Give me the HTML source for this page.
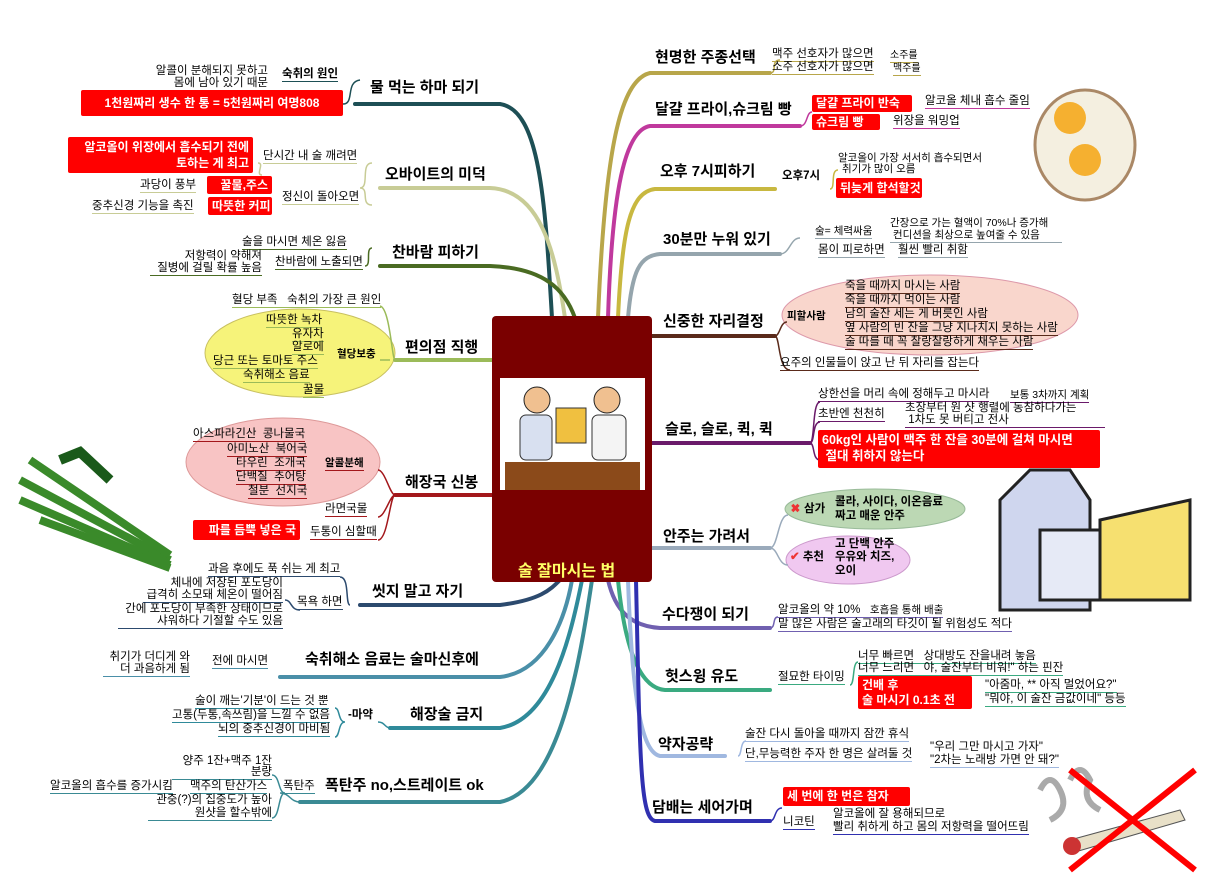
<!DOCTYPE html>
<html><head><meta charset="utf-8">
<style>
body{margin:0;width:1211px;height:881px;background:#fff;position:relative;overflow:hidden;font-family:"Liberation Sans","Noto Sans CJK KR","NanumGothic",sans-serif;}
.t{position:absolute;font-size:11.5px;line-height:13px;white-space:nowrap;color:#000;border-bottom:1.5px solid #888;}
.h{position:absolute;font-size:15px;font-weight:bold;white-space:nowrap;line-height:18px;color:#000;}
.r{position:absolute;background:#f00;color:#fff;font-weight:bold;font-size:12px;line-height:14px;padding:2px 4px;white-space:nowrap;border-radius:2px;}
.n{border:none}
</style></head><body>
<svg width="1211" height="881" style="position:absolute;left:0;top:0">
<!-- clouds -->
<ellipse cx="300" cy="353" rx="95" ry="44" fill="#f6f37a" stroke="#c8c060"/>
<ellipse cx="283" cy="462" rx="97" ry="44" fill="#f8c4c4" stroke="#d99"/>
<ellipse cx="930" cy="315" rx="148" ry="40" fill="#f9d6cc" stroke="#d9a"/>
<ellipse cx="875" cy="509" rx="90" ry="20" fill="#bcd8b4" stroke="#9b9"/>
<ellipse cx="848" cy="560" rx="62" ry="24" fill="#f0c8f0" stroke="#c9c"/>
<!-- main branches left -->
<g fill="none" stroke-width="4" stroke-linecap="round">
<path d="M355 104 H500 C540 110 545 200 552 318" stroke="#1d4f55"/>
<path d="M380 188 H490 C540 190 555 250 565 318" stroke="#c8cc96"/>
<path d="M380 266 H490 C545 268 565 290 575 318" stroke="#4a6b22"/>
<path d="M395 360 H494" stroke="#9bbb59"/>
<path d="M395 495 H494" stroke="#a3171b"/>
<path d="M360 605 H500 C540 600 550 590 560 580" stroke="#2c4a6e"/>
<path d="M280 677 H500 C545 672 565 620 572 580" stroke="#4a8fa8"/>
<path d="M390 728 H500 C550 720 570 640 582 580" stroke="#2f8a9a"/>
<path d="M300 802 H500 C560 790 580 660 592 580" stroke="#3a8a94"/>
<!-- right -->
<path d="M598 318 C605 150 620 80 650 73 H770" stroke="#b8a64a"/>
<path d="M608 318 C612 190 625 130 650 126 H800" stroke="#c0399d"/>
<path d="M618 318 C622 230 630 192 655 189 H775" stroke="#c8b840"/>
<path d="M628 318 C632 270 640 256 660 254 H780" stroke="#95a5ad"/>
<path d="M650 336 H775" stroke="#5a2a1a"/>
<path d="M650 443 H810" stroke="#6a1a6a"/>
<path d="M650 548 H770" stroke="#9aaabb"/>
<path d="M608 580 C615 610 630 626 660 628 H770" stroke="#7060b0"/>
<path d="M618 580 C625 650 640 688 665 690 H770" stroke="#3aaa80"/>
<path d="M628 580 C632 690 640 752 660 756 H725" stroke="#a0b8e0"/>
<path d="M636 580 C640 760 640 818 655 821 H770" stroke="#3030b0"/>
</g>
<!-- sub connectors -->
<g fill="none" stroke-width="1.5">
<path d="M343 104 C355 104 345 82 360 80" stroke="#1d4f55"/>
<path d="M360 188 C370 188 360 163 372 163 M360 188 C370 188 360 205 372 205 M258 163 C265 163 255 175 262 175" stroke="#c8cc96"/>
<path d="M365 266 C372 266 365 248 372 248" stroke="#4a6b22"/>
<path d="M395 360 C392 360 390 308 380 306 M390 360 H380" stroke="#9bbb59"/>
<path d="M395 495 C390 495 385 470 378 470 M395 495 C390 495 385 517 378 517 M395 495 C390 495 388 540 378 540" stroke="#a3171b"/>
<path d="M350 605 C345 605 350 577 340 577 M300 610 C290 610 292 600 285 600" stroke="#2c4a6e"/>
<path d="M390 728 C385 728 385 722 378 722 M345 722 C338 722 340 708 335 708 M345 722 C338 722 340 737 335 737" stroke="#2f8a9a"/>
<path d="M300 802 C290 802 290 793 280 793 M285 793 C278 793 280 775 272 775 M285 793 C278 793 280 818 272 818" stroke="#3a8a94"/>
<path d="M770 73 C778 73 770 60 780 60" stroke="#b8a64a"/>
<path d="M800 126 C808 126 806 112 812 112" stroke="#c0399d"/>
<path d="M830 189 C836 189 830 170 838 170" stroke="#c8b840"/>
<path d="M780 254 C790 254 790 238 800 238" stroke="#95a5ad"/>
<path d="M775 336 C780 336 778 370 790 370 M775 336 C780 336 780 322 787 322" stroke="#5a2a1a"/>
<path d="M810 443 C815 443 812 402 820 402 M810 443 C815 443 812 422 820 422 M810 443 C815 443 812 460 820 460" stroke="#6a1a6a"/>
<path d="M770 548 C778 548 778 515 788 515 M770 548 C778 548 778 565 788 565" stroke="#9aaabb"/>
<path d="M770 628 C776 628 772 617 778 617" stroke="#7060b0"/>
<path d="M850 685 C855 685 852 662 858 662" stroke="#3aaa80"/>
<path d="M738 756 C742 756 740 741 746 741" stroke="#a0b8e0"/>
<path d="M770 821 C776 821 774 808 782 808" stroke="#3030b0"/>
</g>
<!-- central -->
<rect x="492" y="316" width="160" height="266" rx="4" fill="#7a0000"/>
<rect x="500" y="378" width="145" height="112" fill="#fff"/>
<rect x="505" y="462" width="135" height="28" fill="#8b4a1a"/>
<circle cx="537" cy="400" r="13" fill="#f0c090" stroke="#222"/>
<rect x="520" y="415" width="32" height="45" rx="6" fill="#d8e0f0" stroke="#333"/>
<circle cx="607" cy="400" r="13" fill="#f0c090" stroke="#222"/>
<rect x="592" y="415" width="34" height="45" rx="6" fill="#f4f4f4" stroke="#333"/>
<rect x="556" y="408" width="30" height="35" fill="#f0c040" stroke="#333"/>
<!-- pictures -->
<ellipse cx="1085" cy="145" rx="50" ry="55" fill="#f4efe0" stroke="#a86" stroke-width="3"/>
<circle cx="1070" cy="118" r="16" fill="#f5b030"/>
<circle cx="1085" cy="160" r="16" fill="#f5b030"/>
<path d="M1000 500 L1030 470 L1070 470 L1090 500 V610 H1000 Z" fill="#cfd6ee" stroke="#222" stroke-width="3"/>
<path d="M1100 520 L1190 500 V600 H1100 Z" fill="#f6e070" stroke="#222" stroke-width="3"/>
<rect x="1040" y="530" width="60" height="70" fill="#e6eaf6" stroke="#222" stroke-width="3"/>
<g stroke="#3a8a2a" stroke-width="8" fill="none"><path d="M20 480 L170 560"/><path d="M20 500 L170 565"/><path d="M30 460 L170 555"/><path d="M40 520 L170 568"/></g>
<path d="M60 460 L80 452 L110 480" stroke="#1a5a1a" stroke-width="10" fill="none"/>
<g stroke="#aaa" stroke-width="6" fill="none"><path d="M1040 790 q10 -20 20 0 q10 20 -10 30"/><path d="M1070 780 q10 -20 20 0 q-10 20 10 30"/></g>
<path d="M1070 840 L1180 810 L1185 820 L1075 852 Z" fill="#e8e0c8" stroke="#555"/>
<circle cx="1072" cy="846" r="9" fill="#c33"/>
<path d="M1070 770 L1195 870 M1195 770 L1070 870" stroke="#f00" stroke-width="6"/>
</svg>
<div style="position:absolute;left:518px;top:557px;color:#ffff66;font-weight:bold;font-size:16px;white-space:nowrap">술 잘마시는 법</div>

<!-- left topics -->
<div class="h" style="left:370px;top:79px">물 먹는 하마 되기</div>
<div class="h" style="left:385px;top:166px">오바이트의 미덕</div>
<div class="h" style="left:392px;top:244px">찬바람 피하기</div>
<div class="h" style="left:405px;top:339px">편의점 직행</div>
<div class="h" style="left:405px;top:474px">해장국 신봉</div>
<div class="h" style="left:372px;top:583px">씻지 말고 자기</div>
<div class="h" style="left:305px;top:651px">숙취해소 음료는 술마신후에</div>
<div class="h" style="left:410px;top:706px">해장술 금지</div>
<div class="h" style="left:325px;top:777px">폭탄주 no,스트레이트 ok</div>
<!-- right topics -->
<div class="h" style="left:655px;top:49px">현명한 주종선택</div>
<div class="h" style="left:655px;top:101px">달걀 프라이,슈크림 빵</div>
<div class="h" style="left:660px;top:163px">오후 7시피하기</div>
<div class="h" style="left:663px;top:231px">30분만 누워 있기</div>
<div class="h" style="left:663px;top:313px">신중한 자리결정</div>
<div class="h" style="left:665px;top:421px">슬로, 슬로, 퀵, 퀵</div>
<div class="h" style="left:663px;top:528px">안주는 가려서</div>
<div class="h" style="left:662px;top:606px">수다쟁이 되기</div>
<div class="h" style="left:665px;top:668px">헛스윙 유도</div>
<div class="h" style="left:658px;top:736px">약자공략</div>
<div class="h" style="left:652px;top:799px">담배는 세어가며</div>

<!-- left subs -->
<div class="t n" style="left:152px;top:65px;text-align:right;width:116px">알콜이 분해되지 못하고</div>
<div class="t" style="left:152px;top:77px;text-align:right;width:116px;border-color:#1d4f55">몸에 남아 있기 때문</div>
<div class="t" style="left:282px;top:68px;border-color:#1d4f55;font-weight:bold">숙취의 원인</div>
<div class="r" style="left:81px;top:90px;width:254px;height:22px;line-height:22px;text-align:center">1천원짜리 생수 한 통 = 5천원짜리 여명808</div>
<div class="r" style="left:68px;top:137px;width:177px;text-align:right;line-height:16px">알코올이 위장에서 흡수되기 전에<br>토하는 게 최고</div>
<div class="t" style="left:263px;top:150px;border-color:#c8cc96">단시간 내 술 깨려면</div>
<div class="r" style="left:207px;top:176px;width:57px;text-align:right">꿀물,주스</div>
<div class="t" style="left:140px;top:179px;border-color:#c8cc96">과당이 풍부</div>
<div class="t" style="left:282px;top:191px;border-color:#c8cc96">정신이 돌아오면</div>
<div class="r" style="left:208px;top:197px;width:56px">따뜻한 커피</div>
<div class="t" style="left:92px;top:200px;border-color:#c8cc96">중추신경 기능을 촉진</div>
<div class="t" style="left:242px;top:236px;border-color:#4a6b22">술을 마시면 체온 잃음</div>
<div class="t n" style="left:150px;top:250px;width:112px;text-align:right">저항력이 약해져</div>
<div class="t" style="left:150px;top:262px;width:112px;text-align:right;border-color:#4a6b22">질병에 걸릴 확률 높음</div>
<div class="t" style="left:275px;top:256px;border-color:#4a6b22">찬바람에 노출되면</div>
<div class="t" style="left:232px;top:294px;border-color:#9bbb59">혈당 부족 &nbsp; 숙취의 가장 큰 원인</div>
<div class="t" style="left:266px;top:314px;border-color:#9bbb59">따뜻한 녹차</div>
<div class="t" style="left:292px;top:328px;border-color:#9bbb59">유자차</div>
<div class="t" style="left:292px;top:341px;border-color:#9bbb59">알로에</div>
<div class="t" style="left:213px;top:355px;border-color:#9bbb59">당근 또는 토마토 주스</div>
<div class="t" style="left:243px;top:369px;border-color:#9bbb59">숙취해소 음료</div>
<div class="t" style="left:303px;top:384px;border-color:#9bbb59">꿀물</div>
<div class="t n" style="left:337px;top:348px;font-weight:bold;font-size:10.5px">혈당보충</div>
<div class="t" style="left:193px;top:428px;border-color:#a3171b">아스파라긴산 &nbsp;콩나물국</div>
<div class="t" style="left:227px;top:443px;border-color:#a3171b">아미노산 &nbsp;북어국</div>
<div class="t" style="left:236px;top:457px;border-color:#a3171b">타우린 &nbsp;조개국</div>
<div class="t" style="left:236px;top:471px;border-color:#a3171b">단백질 &nbsp;추어탕</div>
<div class="t" style="left:248px;top:485px;border-color:#a3171b">철분 &nbsp;선지국</div>
<div class="t" style="left:325px;top:457px;font-weight:bold;font-size:10.5px;border-color:#a3171b">알콜분해</div>
<div class="t" style="left:325px;top:503px;border-color:#a3171b">라면국물</div>
<div class="r" style="left:193px;top:520px;width:99px;text-align:right;height:16px;line-height:16px">파를 듬뿍 넣은 국</div>
<div class="t" style="left:310px;top:526px;border-color:#a3171b">두통이 심할때</div>
<div class="t" style="left:208px;top:563px;border-color:#2c4a6e">과음 후에도 푹 쉬는 게 최고</div>
<div class="t n" style="left:143px;top:577px;width:140px;text-align:right">체내에 저장된 포도당이</div>
<div class="t" style="left:143px;top:589px;width:140px;text-align:right;border-color:#2c4a6e">급격히 소모돼 체온이 떨어짐</div>
<div class="t" style="left:297px;top:596px;border-color:#2c4a6e">목욕 하면</div>
<div class="t n" style="left:118px;top:603px;width:165px;text-align:right">간에 포도당이 부족한 상태이므로</div>
<div class="t" style="left:118px;top:615px;width:165px;text-align:right;border-color:#2c4a6e">샤워하다 기절할 수도 있음</div>
<div class="t n" style="left:103px;top:651px;width:87px;text-align:right">취기가 더디게 와</div>
<div class="t" style="left:103px;top:663px;width:87px;text-align:right;border-color:#4a8fa8">더 과음하게 됨</div>
<div class="t" style="left:212px;top:655px;border-color:#4a8fa8">전에 마시면</div>
<div class="t" style="left:195px;top:695px;border-color:#2f8a9a">술이 깨는'기분'이 드는 것 뿐</div>
<div class="t" style="left:172px;top:709px;border-color:#2f8a9a">고통(두통,속쓰림)을 느낄 수 없음</div>
<div class="t" style="left:218px;top:723px;border-color:#2f8a9a">뇌의 중추신경이 마비됨</div>
<div class="t n" style="left:348px;top:709px;font-weight:bold">-마약</div>
<div class="t n" style="left:172px;top:755px;width:100px;text-align:right">양주 1잔+맥주 1잔</div>
<div class="t" style="left:172px;top:766px;width:100px;text-align:right;border-color:#3a8a94">분량</div>
<div class="t" style="left:190px;top:780px;border-color:#3a8a94">맥주의 탄산가스</div>
<div class="t" style="left:50px;top:780px;border-color:#3a8a94">알코올의 흡수를 증가시킴</div>
<div class="t n" style="left:148px;top:794px;width:124px;text-align:right">관중(?)의 집중도가 높아</div>
<div class="t" style="left:148px;top:807px;width:124px;text-align:right;border-color:#3a8a94">원샷을 할수밖에</div>
<div class="t" style="left:283px;top:780px;border-color:#3a8a94">폭탄주</div>

<!-- right subs -->
<div class="t" style="left:772px;top:48px;border-color:#b8a64a">맥주 선호자가 많으면</div>
<div class="t" style="left:890px;top:49px;font-size:10px;border-color:#b8a64a">소주를</div>
<div class="t" style="left:772px;top:61px;border-color:#b8a64a">소주 선호자가 많으면</div>
<div class="t" style="left:893px;top:62px;font-size:10px;border-color:#b8a64a">맥주를</div>
<div class="r" style="left:812px;top:95px;width:92px;height:13px;line-height:13px">달걀 프라이 반숙</div>
<div class="t" style="left:925px;top:95px;border-color:#c0399d">알코올 체내 흡수 줄임</div>
<div class="r" style="left:812px;top:114px;width:60px;height:12px;line-height:12px">슈크림 빵</div>
<div class="t" style="left:893px;top:115px;border-color:#c0399d">위장을 워밍업</div>
<div class="t n" style="left:782px;top:170px;font-weight:bold">오후7시</div>
<div class="t n" style="left:838px;top:152px;font-size:10.5px">알코올이 가장 서서히 흡수되면서</div>
<div class="t n" style="left:842px;top:163px;font-size:10.5px">취기가 많이 오름</div>
<div class="r" style="left:836px;top:178px;width:78px;height:16px;line-height:16px">뒤늦게 합석할것</div>
<div class="t" style="left:815px;top:225px;font-size:10.5px;border-color:#95a5ad">술= 체력싸움</div>
<div class="t n" style="left:890px;top:217px;font-size:10.5px">간장으로 가는 혈액이 70%나 증가해</div>
<div class="t" style="left:890px;top:229px;width:172px;font-size:10.5px;border-color:#95a5ad">&nbsp;컨디션을 최상으로 높여줄 수 있음</div>
<div class="t" style="left:818px;top:244px;border-color:#95a5ad">몸이 피로하면</div>
<div class="t" style="left:898px;top:244px;border-color:#95a5ad">훨씬 빨리 취함</div>
<div class="t n" style="left:787px;top:310px;font-weight:bold;font-size:10.5px">피할사람</div>
<div class="t" style="left:845px;top:280px;border-color:#5a2a1a">죽을 때까지 마시는 사람</div>
<div class="t" style="left:845px;top:294px;border-color:#5a2a1a">죽을 때까지 먹이는 사람</div>
<div class="t" style="left:845px;top:308px;border-color:#5a2a1a">남의 술잔 세는 게 버릇인 사람</div>
<div class="t" style="left:845px;top:322px;border-color:#5a2a1a">옆 사람의 빈 잔을 그냥 지나치지 못하는 사람</div>
<div class="t" style="left:845px;top:336px;border-color:#5a2a1a">술 따를 때 꼭 찰랑찰랑하게 채우는 사람</div>
<div class="t" style="left:780px;top:357px;border-color:#5a2a1a">요주의 인물들이 앉고 난 뒤 자리를 잡는다</div>
<div class="t" style="left:818px;top:388px;border-color:#6a1a6a">상한선을 머리 속에 정해두고 마시라</div>
<div class="t" style="left:1010px;top:389px;font-size:10.5px;border-color:#6a1a6a">보통 3차까지 계획</div>
<div class="t" style="left:818px;top:408px;border-color:#6a1a6a">초반엔 천천히</div>
<div class="t n" style="left:905px;top:402px">초장부터 원 샷 행렬에 동참하다가는</div>
<div class="t" style="left:905px;top:414px;width:200px;border-color:#6a1a6a">&nbsp;1차도 못 버티고 전사</div>
<div class="r" style="left:818px;top:430px;width:274px;height:34px;line-height:16px;font-size:12.5px">60kg인 사람이 맥주 한 잔을 30분에 걸쳐 마시면<br>&nbsp;절대 취하지 않는다</div>
<div class="t n" style="left:790px;top:503px;font-weight:bold"><span style="color:#e33">✖</span> 삼가</div>
<div class="t n" style="left:835px;top:496px;font-weight:bold">콜라, 사이다, 이온음료</div>
<div class="t n" style="left:835px;top:510px;font-weight:bold">짜고 매운 안주</div>
<div class="t n" style="left:790px;top:551px;font-weight:bold"><span style="color:#e33">✔</span> 추천</div>
<div class="t n" style="left:835px;top:538px;font-weight:bold">고 단백 안주</div>
<div class="t n" style="left:835px;top:551px;font-weight:bold">우유와 치즈,</div>
<div class="t n" style="left:835px;top:565px;font-weight:bold">오이</div>
<div class="t" style="left:778px;top:604px;border-color:#7060b0">알코올의 약 10% &nbsp; <span style="font-size:10.5px">호흡을 통해 배출</span></div>
<div class="t" style="left:778px;top:618px;border-color:#7060b0">말 많은 사람은 술고래의 타깃이 될 위험성도 적다</div>
<div class="t" style="left:778px;top:671px;border-color:#3aaa80">절묘한 타이밍</div>
<div class="t" style="left:858px;top:650px;border-color:#3aaa80">너무 빠르면 &nbsp; 상대방도 잔을내려 놓음</div>
<div class="t" style="left:858px;top:662px;border-color:#3aaa80">너무 느리면 &nbsp; 야, 술잔부터 비워!" 하는 핀잔</div>
<div class="r" style="left:858px;top:676px;width:106px;height:29px;line-height:15px">건배 후<br>술 마시기 0.1초 전</div>
<div class="t" style="left:985px;top:679px;border-color:#3aaa80">"아줌마, ** 아직 멀었어요?"</div>
<div class="t" style="left:985px;top:693px;border-color:#3aaa80">"뭐야, 이 술잔 금값이네" 등등</div>
<div class="t" style="left:745px;top:728px;border-color:#a0b8e0">술잔 다시 돌아올 때까지 잠깐 휴식</div>
<div class="t" style="left:745px;top:748px;border-color:#a0b8e0">단,무능력한 주자 한 명은 살려둘 것</div>
<div class="t n" style="left:930px;top:741px">"우리 그만 마시고 가자"</div>
<div class="t" style="left:930px;top:754px;border-color:#a0b8e0">"2차는 노래방 가면 안 돼?"</div>
<div class="r" style="left:783px;top:787px;width:119px;height:15px;line-height:15px">세 번에 한 번은 참자</div>
<div class="t" style="left:783px;top:816px;border-color:#3030b0">니코틴</div>
<div class="t n" style="left:833px;top:808px">알코올에 잘 용해되므로</div>
<div class="t" style="left:833px;top:821px;border-color:#3030b0">빨리 취하게 하고 몸의 저항력을 떨어뜨림</div>
</body></html>
